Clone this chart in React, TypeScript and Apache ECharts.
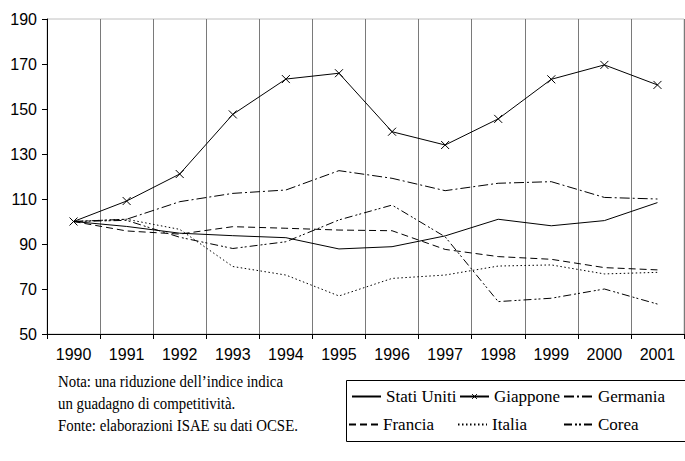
import React, { useEffect, useRef } from "react";
import * as echarts from "echarts";

const years = ["1990", "1991", "1992", "1993", "1994", "1995", "1996", "1997", "1998", "1999", "2000", "2001"];
const statiUniti = [100, 97.8, 94.8, 93.7, 92.8, 87.8, 88.8, 93.6, 101, 98.1, 100.4, 108.4];
const giappone = [100, 109.1, 121.1, 147.6, 163.3, 165.9, 139.9, 134, 145.6, 163.2, 169.6, 160.7];
const germania = [100, 101, 108.8, 112.5, 114, 122.6, 119.2, 113.7, 117, 117.7, 110.7, 110];
const francia = [100, 95.8, 94.4, 97.7, 97, 96.2, 95.9, 87.6, 84.4, 83.2, 79.5, 78.5];
const italia = [100, 101, 96.5, 80, 76.2, 66.9, 74.7, 76.2, 80.2, 80.7, 76.7, 77.4];
const corea = [100, 100.5, 93, 88, 91, 100.7, 107.3, 93.2, 64.4, 65.9, 70, 63.3];
const yTicks = [50, 70, 90, 110, 130, 150, 170, 190];
const seriesNames = ["Stati Uniti", "Giappone", "Germania", "Francia", "Italia", "Corea"];
const noteLines = [
  "Nota: una riduzione dell\u2019indice indica",
  "un guadagno di competitività.",
  "Fonte: elaborazioni ISAE su dati OCSE.",
];

const legendSpots = [
  { left: 351, top: 388, h: 10 },
  { left: 459, top: 388, h: 6 },
  { left: 563, top: 388, h: 10 },
  { left: 348, top: 416, h: 10 },
  { left: 457, top: 416, h: 10 },
  { left: 563, top: 416, h: 10 },
];

const SERIF = "'Liberation Serif', 'Times New Roman', Times, serif";
const SANS = "'Liberation Sans', Arial, Helvetica, sans-serif";
const CROSS = "path://M0,0L10,10M10,0L0,10";

export default function App() {
  const ref = useRef<HTMLDivElement>(null);
  useEffect(() => {
    if (!ref.current) return;
    const chart = echarts.init(ref.current, null, { renderer: "svg" });
    const base = (name: string, data: number[], type: any) => ({
      name,
      type: "line",
      data,
      symbol: "none",
      lineStyle: { color: "#000", width: 1, type },
      itemStyle: { color: "#000" },
    });
    const series: any[] = [
      base(seriesNames[0], statiUniti, "solid"),
      {
        ...base(seriesNames[1], giappone, "solid"),
        symbol: CROSS,
        symbolSize: 8,
        itemStyle: { color: "#000", borderColor: "#000", borderWidth: 1 },
      },
      base(seriesNames[2], germania, [10, 3, 2, 3]),
      base(seriesNames[3], francia, [7, 4]),
      base(seriesNames[4], italia, [1.5, 2.5]),
      base(seriesNames[5], corea, [8, 3, 2, 2, 2, 3]),
    ];
    const option: any = {
      animation: false,
      backgroundColor: "#fff",
      textStyle: { fontFamily: SERIF },
      grid: {
        left: 47,
        top: 19,
        right: 1,
        bottom: 127,
        show: true,
        borderColor: "#c0c0c0",
        borderWidth: 1,
      },
      xAxis: {
        type: "category",
        data: years,
        boundaryGap: true,
        axisLine: { lineStyle: { color: "#000", width: 1 } },
        axisTick: { show: true, length: 5, interval: 0, lineStyle: { color: "#000" } },
        axisLabel: {
          interval: 0,
          margin: 12,
          color: "#000",
          fontFamily: SANS,
          fontSize: 16,
        },
        splitLine: { show: true, interval: 0, lineStyle: { color: "#7a7a7a", width: 1 } },
      },
      yAxis: {
        type: "value",
        min: 50,
        max: 190,
        axisLine: { show: true, lineStyle: { color: "#000", width: 1 } },
        axisTick: { show: true, length: 5, customValues: yTicks, lineStyle: { color: "#000" } },
        axisLabel: {
          customValues: yTicks,
          margin: 10,
          color: "#000",
          fontFamily: SANS,
          fontSize: 16,
        },
        splitLine: { show: false },
      },
      legend: legendSpots.map((p, i) => ({
        data:
          i === 1
            ? [{ name: seriesNames[i], itemStyle: { color: "#000", borderColor: "#000", borderWidth: 1, opacity: 1 } }]
            : [seriesNames[i]],
        left: p.left,
        top: p.top,
        itemWidth: 29,
        itemHeight: p.h,
        itemGap: 0,
        padding: 0,
        selectedMode: false,
        itemStyle:
          i === 1
            ? { color: "#000", borderColor: "#000", borderWidth: 1, opacity: 1 }
            : { opacity: 0 },
        textStyle: { fontFamily: SERIF, fontSize: 17, color: "#000" },
      })),
      graphic: [
        {
          type: "rect",
          shape: { x: 346.5, y: 380.5, width: 360, height: 61 },
          style: { fill: "none", stroke: "#000", lineWidth: 1 },
          silent: true,
        },
        ...noteLines.map((t, i) => ({
          type: "text",
          x: 58,
          y: 373 + i * 22,
          scaleX: 0.9,
          style: { text: t, fontFamily: SERIF, fontSize: 16.5, fill: "#000", verticalAlign: "top" },
          silent: true,
        })),
      ],
      series,
    };
    chart.setOption(option);
    return () => chart.dispose();
  }, []);
  return (
    <div
      ref={ref}
      style={{ position: "absolute", left: 0, top: 0, width: 685, height: 461 }}
    />
  );
}
